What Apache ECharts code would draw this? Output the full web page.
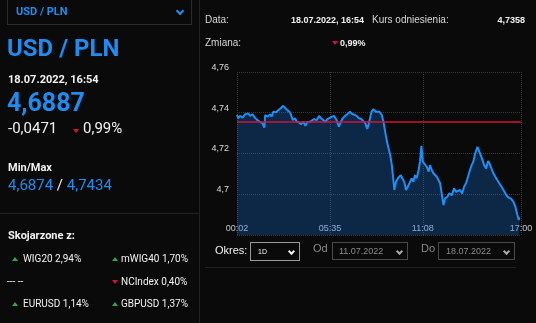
<!DOCTYPE html>
<html>
<head>
<meta charset="utf-8">
<script src="https://cdn.jsdelivr.net/npm/echarts@6/dist/echarts.min.js"></script>
<style>
  html, body { margin: 0; padding: 0; background: #0a0a0a; width: 536px; height: 323px; overflow: hidden; }
  #chart { position: absolute; left: 0; top: 0; width: 536px; height: 323px; z-index: 1; }
  .layer { position: absolute; left: 0; top: 0; width: 536px; height: 323px; z-index: 2; pointer-events: none; }
  .t { position: absolute; white-space: nowrap; line-height: 1; }
  .l { font-family: Roboto, "Noto Sans", sans-serif; }
  .r { font-family: "Liberation Sans", Arial, sans-serif; }
  .blue { color: #1e8cf0; }
  .white { color: #f2f2f2; }
  .up { position: absolute; width: 0; height: 0; border-left: 3px solid transparent; border-right: 3px solid transparent; border-bottom: 4px solid #2fa84a; }
  .down { position: absolute; width: 0; height: 0; border-left: 3px solid transparent; border-right: 3px solid transparent; border-top: 4px solid #d4123a; }
  .box { position: absolute; box-sizing: border-box; }
  .chev { position: absolute; width: 4px; height: 4px; border-right: 2px solid; border-bottom: 2px solid; transform: rotate(45deg); }
</style>
</head>
<body>
<div id="chart"></div>
<div class="layer">
  <!-- panel dividers -->
  <div class="box" style="left:199px;top:0;width:1px;height:323px;background:#222;"></div>
  <div class="box" style="left:0;top:213px;width:199px;height:1px;background:#222;"></div>
  <div class="box" style="left:205px;top:267px;width:311px;height:1px;background:#222;"></div>

  <!-- instrument selector -->
  <div class="box" style="left:7px;top:-2px;width:185px;height:27px;border:1px solid #2a2a2a;"></div>
  <div class="t l blue" style="left:16px;top:6px;font-size:11px;font-weight:700;">USD / PLN</div>
  <div class="chev" style="left:177px;top:8px;color:#1e8cf0;"></div>

  <div class="t l blue" style="left:7px;top:36px;font-size:24px;font-weight:700;">USD / PLN</div>
  <div class="t l white" style="left:8px;top:74px;font-size:11px;font-weight:700;">18.07.2022, 16:54</div>
  <div class="t l blue" style="left:7px;top:90px;font-size:25px;font-weight:700;">4,6887</div>
  <div class="t l white" style="left:8px;top:121px;font-size:15px;">-0,0471</div>
  <div class="down" style="left:73px;top:129px;"></div>
  <div class="t l white" style="left:83px;top:121px;font-size:15px;">0,99%</div>

  <div class="t l white" style="left:8px;top:162px;font-size:11px;font-weight:700;">Min/Max</div>
  <div class="t l" style="left:8px;top:178px;font-size:15px;"><span class="blue">4,6874</span><span class="white"> / </span><span class="blue">4,7434</span></div>

  <div class="t l white" style="left:8px;top:230px;font-size:11px;font-weight:700;">Skojarzone z:</div>
  <div class="up" style="left:12px;top:257px;"></div>
  <div class="t l white" style="left:23px;top:254px;font-size:10px;">WIG20 2,94%</div>
  <div class="up" style="left:112px;top:257px;"></div>
  <div class="t l white" style="left:121px;top:254px;font-size:10px;">mWIG40 1,70%</div>
  <div class="t l white" style="left:7px;top:277px;font-size:10px;">--- --</div>
  <div class="down" style="left:112px;top:280px;"></div>
  <div class="t l white" style="left:121px;top:277px;font-size:10px;">NCIndex 0,40%</div>
  <div class="up" style="left:12px;top:302px;"></div>
  <div class="t l white" style="left:23px;top:299px;font-size:10px;">EURUSD 1,14%</div>
  <div class="up" style="left:112px;top:302px;"></div>
  <div class="t l white" style="left:121px;top:299px;font-size:10px;">GBPUSD 1,37%</div>

  <!-- quote summary -->
  <div class="t r" style="left:205px;top:15px;font-size:10px;color:#d8d8d8;">Data:</div>
  <div class="t r white" style="right:172px;top:16px;font-size:9px;font-weight:700;">18.07.2022, 16:54</div>
  <div class="t r" style="left:372px;top:15px;font-size:10px;color:#d8d8d8;">Kurs odniesienia:</div>
  <div class="t r white" style="right:11px;top:16px;font-size:9px;font-weight:700;">4,7358</div>
  <div class="t r" style="left:205px;top:38px;font-size:10px;color:#d8d8d8;">Zmiana:</div>
  <div class="down" style="left:332px;top:41px;"></div>
  <div class="t r white" style="left:340px;top:39px;font-size:9px;font-weight:700;">0,99%</div>

  <!-- period controls -->
  <div class="t r white" style="left:215px;top:245px;font-size:11px;">Okres:</div>
  <div class="box" style="left:250px;top:242px;width:50px;height:19px;border:1px solid #9a9a9a;"></div>
  <div class="t r white" style="left:258px;top:248px;font-size:7px;">1D</div>
  <div class="chev" style="left:289px;top:249px;color:#eee;width:3px;height:3px;"></div>
  <div class="t r" style="left:313px;top:243px;font-size:11px;color:#8a8a8a;">Od</div>
  <div class="box" style="left:332px;top:242px;width:76px;height:18px;border:1px solid #4a4a4a;"></div>
  <div class="t r" style="left:339px;top:247px;font-size:9px;color:#8a8a8a;">11.07.2022</div>
  <div class="chev" style="left:397px;top:249px;color:#aaa;width:3px;height:3px;"></div>
  <div class="t r" style="left:421px;top:243px;font-size:11px;color:#8a8a8a;">Do</div>
  <div class="box" style="left:438px;top:242px;width:77px;height:18px;border:1px solid #4a4a4a;"></div>
  <div class="t r" style="left:446px;top:247px;font-size:9px;color:#8a8a8a;">18.07.2022</div>
  <div class="chev" style="left:504px;top:249px;color:#aaa;width:3px;height:3px;"></div>
</div>

<script>
// Intraday USD/PLN quotes, 18.07.2022
const times = [
  '00:02','00:07','00:13','00:22','00:31','00:42','00:49','00:58','01:06','01:15',
  '01:24','01:33','01:40','01:43','01:52','02:00','02:06','02:12','02:22','02:30',
  '02:39','02:48','02:55','03:02','03:10','03:15','03:22','03:30','03:36','03:44',
  '03:51','04:00','04:07','04:14','04:24','04:31','04:38','04:48','04:56','05:03',
  '05:11','05:19','05:26','05:33','05:42','05:50','05:59','06:07','06:14','06:21',
  '06:29','06:37','06:47','06:54','07:01','07:11','07:19','07:28','07:35','07:42',
  '07:49','07:56','08:04','08:11','08:20','08:25','08:32','08:41','08:47','08:53',
  '08:59','09:04','09:11','09:17','09:22','09:26','09:32','09:40','09:49','09:56',
  '10:02','10:08','10:14','10:20','10:28','10:34','10:40','10:46','10:53','10:58',
  '11:03','11:08','11:14','11:22','11:29','11:34','11:40','11:46','11:52','11:58',
  '12:04','12:10','12:16','12:22','12:28','12:36','12:43','12:52','13:00','13:07',
  '13:14','13:22','13:29','13:36','13:43','13:50','13:57','14:03','14:09','14:16',
  '14:24','14:29','14:33','14:40','14:48','14:55','15:02','15:07','15:14','15:21',
  '15:28','15:35','15:42','15:50','15:57','16:04','16:11','16:18','16:25','16:33',
  '16:40','16:47','16:52','16:54'
];
const rates = [
  4.7389,4.7373,4.7385,4.7376,4.7392,4.7397,4.7385,4.7392,4.7376,4.7364,
  4.7356,4.7348,4.7327,4.7389,4.7381,4.7392,4.7381,4.7405,4.7402,4.7413,
  4.7422,4.7434,4.7425,4.7413,4.7405,4.7392,4.7364,4.7373,4.7356,4.7353,
  4.7343,4.7356,4.7336,4.7353,4.7356,4.7363,4.7369,4.7364,4.7384,4.7373,
  4.7364,4.7356,4.7369,4.7373,4.7381,4.7384,4.7364,4.7331,4.7356,4.7373,
  4.7385,4.7392,4.7405,4.7395,4.7389,4.7385,4.7373,4.7369,4.7364,4.7348,
  4.7320,4.7356,4.7405,4.7418,4.7405,4.7397,4.7405,4.7389,4.7356,4.7307,
  4.7261,4.7255,4.7193,4.7143,4.7078,4.7021,4.7061,4.7081,4.7094,4.7075,
  4.7058,4.7021,4.7037,4.7054,4.7078,4.7061,4.7094,4.7078,4.7119,4.7160,
  4.7238,4.7160,4.7152,4.7135,4.7111,4.7143,4.7119,4.7103,4.7111,4.7086,
  4.7070,4.7054,4.7061,4.6947,4.6980,4.6988,4.7004,4.6996,4.7029,4.7012,
  4.7004,4.7021,4.7004,4.7037,4.7054,4.7086,4.7119,4.7143,4.7160,4.7201,
  4.7233,4.7225,4.7201,4.7176,4.7143,4.7127,4.7163,4.7152,4.7127,4.7103,
  4.7086,4.7070,4.7054,4.7037,4.7021,4.7012,4.6988,4.6980,4.6977,4.6963,
  4.6939,4.6898,4.6874,4.6887
];
const referenceRate = 4.7358;
const timeTicks = ['00:02','05:35','11:08','17:00'];
const rateTicks = [4.70, 4.72, 4.74, 4.76];

const toMinutes = s => { const [h, m] = s.split(':').map(Number); return h * 60 + m; };
const toClock = v => {
  const h = Math.floor(v / 60), m = Math.round(v % 60);
  return String(h).padStart(2, '0') + ':' + String(m).padStart(2, '0');
};
const tickMinutes = timeTicks.map(toMinutes);

const chart = echarts.init(document.getElementById('chart'), null, { renderer: 'canvas' });
chart.setOption({
  animation: false,
  backgroundColor: 'transparent',
  grid: { left: 237, top: 72, width: 284, height: 163, containLabel: false },
  xAxis: {
    type: 'value',
    min: tickMinutes[0],
    max: tickMinutes[tickMinutes.length - 1],
    axisLine: { show: false },
    axisTick: { show: false, customValues: tickMinutes },
    axisLabel: {
      customValues: tickMinutes,
      inside: true,
      margin: 2,
      formatter: v => toClock(v),
      color: 'rgba(235,240,250,0.8)',
      fontSize: 9,
      fontFamily: 'Liberation Sans, Arial, sans-serif'
    },
    splitLine: { show: true, lineStyle: { color: '#3a3a3a', type: 'dotted', width: 1 } }
  },
  yAxis: {
    type: 'value',
    min: 4.68,
    max: rateTicks[rateTicks.length - 1],
    interval: 0.02,
    axisLine: { show: false },
    axisTick: { show: false },
    axisLabel: {
      showMinLabel: false,
      margin: 8,
      verticalAlign: 'bottom',
      color: '#dcdcdc',
      fontSize: 9,
      fontFamily: 'Liberation Sans, Arial, sans-serif',
      formatter: v => String(parseFloat(v.toFixed(2))).replace('.', ',')
    },
    splitLine: { show: true, lineStyle: { color: '#3a3a3a', type: 'dotted', width: 1 } }
  },
  series: [{
    type: 'line',
    data: times.map((t, i) => [toMinutes(t), rates[i]]),
    showSymbol: false,
    symbol: 'none',
    lineStyle: { color: '#1f8ef5', width: 2 },
    areaStyle: { color: 'rgba(22,108,215,0.42)', origin: 'start' },
    markLine: {
      silent: true,
      symbol: 'none',
      precision: 4,
      label: { show: false },
      lineStyle: { color: '#d0143a', type: 'solid', width: 1.5 },
      data: [{ yAxis: referenceRate }]
    },
    z: 2
  }]
});
</script>
</body>
</html>
